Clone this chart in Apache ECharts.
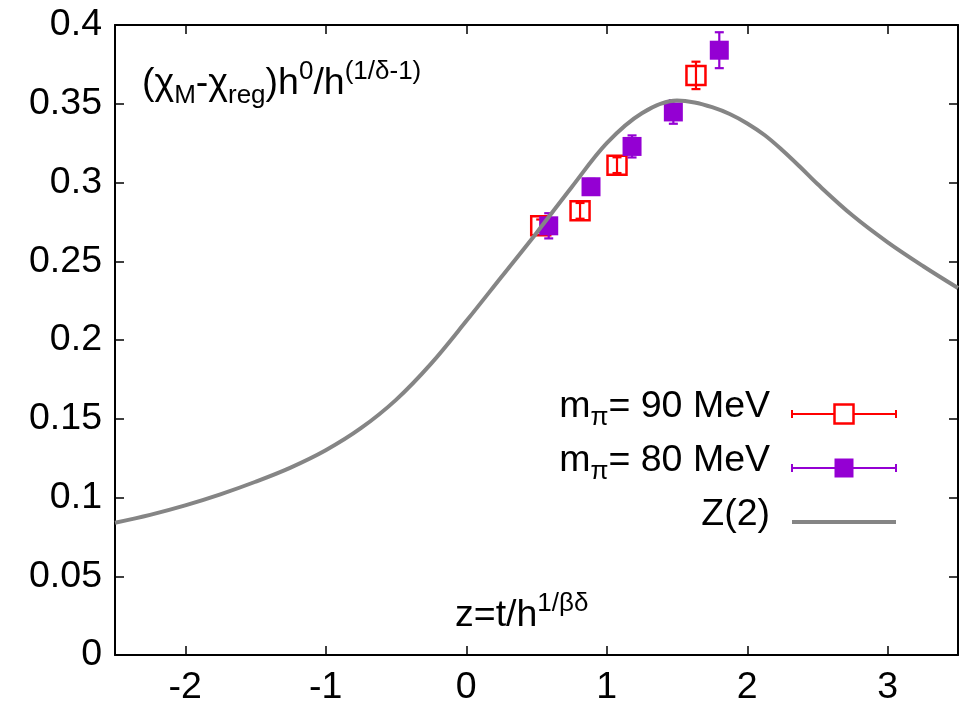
<!DOCTYPE html>
<html>
<head>
<meta charset="utf-8">
<script src="https://cdn.jsdelivr.net/npm/echarts@6/dist/echarts.min.js"></script>
<style>
  html, body { margin: 0; padding: 0; background: #ffffff; }
  #chart { width: 974px; height: 707px; }
</style>
</head>
<body>
<div id="chart"></div>
<script>
// Tick positions on the z axis
const xTicks = [-2, -1, 0, 1, 2, 3];

// m_pi = 90 MeV lattice points: z, value, error
const z90 = [0.53, 0.81, 1.073, 1.635];
const v90 = [0.2725, 0.282, 0.311, 0.368];
const e90 = [0.004, 0.005, 0.005, 0.0087];

// m_pi = 80 MeV lattice points: z, value, error
const z80 = [0.587, 0.888, 1.18, 1.474, 1.801];
const v80 = [0.2725, 0.2973, 0.3229, 0.3448, 0.384];
const e80 = [0.008, 0.005, 0.007, 0.0075, 0.0114];

// Z(2) scaling function samples
const curveZ = [-2.5, -2.25, -2.0, -1.75, -1.5, -1.25, -1.0, -0.75, -0.5, -0.25, 0.0, 0.25, 0.5, 0.75, 1.0, 1.25, 1.5, 1.625, 1.75, 1.875, 2.0, 2.125, 2.25, 2.375, 2.5, 2.75, 3.0, 3.25, 3.5];
const curveV = [0.084, 0.089, 0.095, 0.102, 0.110, 0.119, 0.130, 0.144, 0.162, 0.185, 0.212, 0.240, 0.268, 0.297, 0.325, 0.344, 0.352, 0.3508, 0.3478, 0.3435, 0.3375, 0.330, 0.3205, 0.310, 0.299, 0.279, 0.262, 0.247, 0.233];

const RED = '#ff0000';
const VIOLET = '#9400d3';
const GREY = '#858585';
const FONT = '"Liberation Sans", Arial, Helvetica, sans-serif';
const FS = 37.5;

const rows = (zs, vs, es) => zs.map((z, i) => [z, vs[i], es[i]]);

function errorBarItem(color, filled) {
  return function (params, api) {
    const x = api.value(0), y = api.value(1), e = api.value(2);
    const c = api.coord([x, y]);
    const hi = api.coord([x, y + e]);
    const lo = api.coord([x, y - e]);
    const cap = 4.5, half = 9.5;
    const ls = { stroke: color, lineWidth: 2.2, fill: null };
    return {
      type: 'group',
      children: [
        { type: 'line', shape: { x1: c[0], y1: hi[1], x2: c[0], y2: lo[1] }, style: ls },
        { type: 'line', shape: { x1: c[0] - cap, y1: hi[1], x2: c[0] + cap, y2: hi[1] }, style: ls },
        { type: 'line', shape: { x1: c[0] - cap, y1: lo[1], x2: c[0] + cap, y2: lo[1] }, style: ls },
        {
          type: 'rect',
          shape: { x: c[0] - half, y: c[1] - half, width: 2 * half, height: 2 * half },
          style: filled ? { fill: color } : { fill: null, stroke: color, lineWidth: 2.5 }
        }
      ]
    };
  };
}

// Rich-text styles: base, subscript, superscript
function richStyles(size) {
  const small = Math.round(size * 0.68);
  return {
    b: { fontSize: size, lineHeight: size, padding: [0, 0, 8, 0], verticalAlign: 'bottom', fontFamily: FONT, color: '#000' },
    s: { fontSize: small, lineHeight: small, padding: [0, 0, 2, 0], verticalAlign: 'bottom', fontFamily: FONT, color: '#000' },
    p: { fontSize: small, lineHeight: small, padding: [0, 0, 26, 0], verticalAlign: 'bottom', fontFamily: FONT, color: '#000' }
  };
}

const axisLineStyle = { color: '#000', width: 2 };
const tickStyle = { inside: true, length: 9, lineStyle: { color: '#000', width: 1.5 } };
const labelStyle = { color: '#000', fontSize: FS, fontFamily: FONT };

// Legend rows
function legendRow(y, label, kind) {
  const x0 = 792, x1 = 896, xc = 844, half = 9.5, cap = 4;
  const items = [{
    type: 'text', x: 770, y: y + 0.5,
    style: { text: label, rich: richStyles(FS), align: 'right', verticalAlign: 'middle' }
  }];
  if (kind === 'line') {
    items.push({ type: 'line', shape: { x1: x0, y1: y, x2: x1, y2: y }, style: { stroke: GREY, lineWidth: 4 } });
  } else {
    const color = kind === 'open' ? RED : VIOLET;
    const ls = { stroke: color, lineWidth: 2 };
    items.push({ type: 'line', shape: { x1: x0, y1: y, x2: x1, y2: y }, style: ls });
    items.push({ type: 'line', shape: { x1: x0, y1: y - cap, x2: x0, y2: y + cap }, style: ls });
    items.push({ type: 'line', shape: { x1: x1, y1: y - cap, x2: x1, y2: y + cap }, style: ls });
    items.push({
      type: 'rect', shape: { x: xc - half, y: y - half, width: 2 * half, height: 2 * half },
      style: kind === 'open' ? { fill: '#fff', stroke: color, lineWidth: 2.5 } : { fill: color }
    });
  }
  return items;
}

const chart = echarts.init(document.getElementById('chart'), null, { renderer: 'canvas' });

chart.setOption({
  animation: false,
  backgroundColor: '#ffffff',
  grid: { left: 115, right: 16, top: 25, bottom: 49, containLabel: false },
  xAxis: [{
    type: 'value', position: 'bottom', min: -2.5, max: 3.5,
    axisLine: { onZero: false, lineStyle: axisLineStyle },
    axisTick: Object.assign({ customValues: xTicks }, tickStyle),
    axisLabel: Object.assign({ customValues: xTicks, margin: 14 }, labelStyle),
    splitLine: { show: false }
  }, {
    type: 'value', position: 'top', min: -2.5, max: 3.5,
    axisLine: { onZero: false, lineStyle: axisLineStyle },
    axisTick: Object.assign({ customValues: xTicks }, tickStyle),
    axisLabel: { show: false },
    splitLine: { show: false }
  }],
  yAxis: [{
    type: 'value', position: 'left', min: 0, max: 0.4, interval: 0.05,
    axisLine: { show: true, onZero: false, lineStyle: axisLineStyle },
    axisTick: tickStyle,
    axisLabel: Object.assign({ margin: 13, formatter: v => String(+v.toFixed(2)) }, labelStyle),
    splitLine: { show: false }
  }, {
    type: 'value', position: 'right', min: 0, max: 0.4, interval: 0.05,
    axisLine: { show: true, onZero: false, lineStyle: axisLineStyle },
    axisTick: tickStyle,
    axisLabel: { show: false },
    splitLine: { show: false }
  }],
  series: [{
    name: 'm_pi = 90 MeV', type: 'custom', z: 2,
    renderItem: errorBarItem(RED, false),
    encode: { x: 0, y: 1 },
    data: rows(z90, v90, e90)
  }, {
    name: 'm_pi = 80 MeV', type: 'custom', z: 3,
    renderItem: errorBarItem(VIOLET, true),
    encode: { x: 0, y: 1 },
    data: rows(z80, v80, e80)
  }, {
    name: 'Z(2)', type: 'line', z: 4,
    smooth: 0.35, symbol: 'none',
    lineStyle: { color: GREY, width: 4 },
    data: curveZ.map((z, i) => [z, curveV[i]])
  }],
  graphic: [
    {
      type: 'text', x: 142, y: 92,
      style: {
        text: '{b|(χ}{s|M}{b|-χ}{s|reg}{b|)h}{p|0}{b|/h}{p|(1/δ-1)}',
        rich: richStyles(FS), align: 'left', verticalAlign: 'middle'
      }
    },
    {
      type: 'text', x: 455, y: 624,
      style: {
        text: '{b|z=t/h}{p|1/βδ}',
        rich: richStyles(FS), align: 'left', verticalAlign: 'middle'
      }
    }
  ].concat(
    legendRow(414, '{b|m}{s|π}{b|= 90 MeV}', 'open'),
    legendRow(468, '{b|m}{s|π}{b|= 80 MeV}', 'filled'),
    legendRow(522, '{b|Z(2)}', 'line')
  )
});
</script>
</body>
</html>
